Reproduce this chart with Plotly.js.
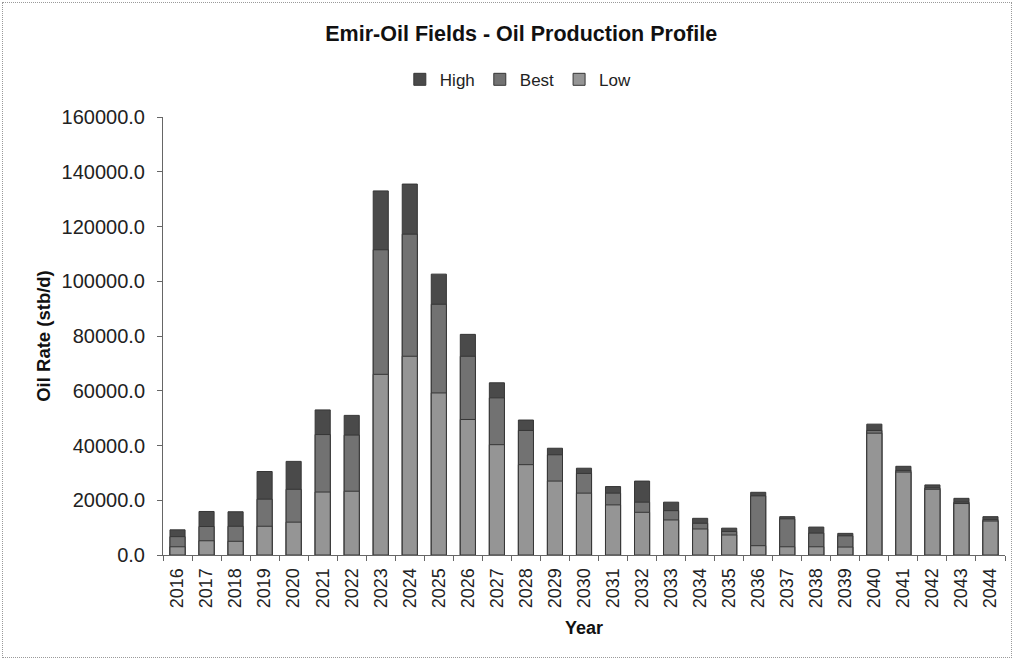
<!DOCTYPE html>
<html>
<head>
<meta charset="utf-8">
<script src="https://cdn.plot.ly/plotly-3.0.1.min.js"></script>
<style>
  html, body { margin: 0; padding: 0; background: #ffffff; }
  #wrap { position: relative; width: 1014px; height: 661px; }
  #chart { position: absolute; left: 0; top: 0; width: 1014px; height: 661px; }
  #frame { position: absolute; left: 2px; top: 2px; width: 1008px; height: 654px;
           border: 1px dotted #9a9a9a; pointer-events: none; }
</style>
</head>
<body>
<div id="wrap">
  <div id="chart"></div>
  <div id="frame"></div>
</div>
<script>
// Production years
const years = ['2016','2017','2018','2019','2020','2021','2022','2023','2024','2025',
               '2026','2027','2028','2029','2030','2031','2032','2033','2034','2035',
               '2036','2037','2038','2039','2040','2041','2042','2043','2044'];

// Oil rate per scenario (stb/d)
const highCase = [9200, 15900, 15800, 30500, 34200, 53000, 51000, 133000, 135500, 102600,
                  80600, 62900, 49300, 39000, 31700, 25000, 27000, 19300, 13400, 9800,
                  22900, 14000, 10200, 7900, 47800, 32400, 25600, 20700, 14000];
const bestCase = [6700, 10400, 10500, 20400, 24000, 44000, 43800, 111500, 117200, 91600,
                  72600, 57400, 45500, 36600, 29800, 22600, 19300, 16200, 11600, 8600,
                  21600, 13200, 8000, 7000, 45500, 30900, 24500, 19300, 12900];
const lowCase  = [3000, 5200, 5000, 10500, 12000, 23000, 23300, 66000, 72600, 59200,
                  49500, 40300, 33000, 27000, 22600, 18300, 15600, 12800, 9500, 7300,
                  3400, 3000, 3000, 2900, 44500, 30300, 24000, 18800, 12400];

const fontFamily = '"Liberation Sans", Arial, sans-serif';
const outline = { color: '#363636', width: 1 };

// Scenarios overlap on one column per year; High sits behind, Low in front
const traces = [
  { name: 'High', x: years, y: highCase, type: 'bar', marker: { color: '#4a4a4a', line: outline } },
  { name: 'Best', x: years, y: bestCase, type: 'bar', marker: { color: '#727272', line: outline } },
  { name: 'Low',  x: years, y: lowCase,  type: 'bar', marker: { color: '#959595', line: outline } }
];

const layout = {
  width: 1014,
  height: 661,
  margin: { l: 163, r: 9, t: 117, b: 106 },
  paper_bgcolor: '#ffffff',
  plot_bgcolor: '#ffffff',
  font: { family: fontFamily, size: 18, color: '#222222' },
  barmode: 'overlay',
  bargap: 0.48,
  showlegend: true,
  title: {
    text: '<b>Emir-Oil Fields - Oil Production Profile</b>',
    font: { family: fontFamily, size: 21.5, color: '#111111' },
    x: 0.514, xref: 'container', xanchor: 'center',
    y: 0.95, yref: 'container', yanchor: 'middle'
  },
  legend: {
    orientation: 'h',
    x: 0.422, xanchor: 'center',
    y: 1.085, yanchor: 'middle',
    font: { family: fontFamily, size: 17, color: '#222222' },
    traceorder: 'normal',
    itemwidth: 30
  },
  xaxis: {
    type: 'category',
    title: { text: '<b>Year</b>', font: { family: fontFamily, size: 18, color: '#111111' }, standoff: 14 },
    tickangle: -90,
    ticks: 'outside',
    ticklen: 5,
    ticklabelstandoff: 5,
    tickson: 'boundaries',
    tickcolor: '#666666',
    showline: true,
    linecolor: '#666666',
    linewidth: 1,
    showgrid: false,
    zeroline: false,
    tickfont: { family: fontFamily, size: 18, color: '#222222' },
    automargin: false
  },
  yaxis: {
    title: { text: '<b>Oil Rate (stb/d)</b>', font: { family: fontFamily, size: 18.5, color: '#111111' }, standoff: 6 },
    range: [0, 160000],
    tickmode: 'linear',
    tick0: 0,
    dtick: 20000,
    tickformat: '.1f',
    ticks: 'outside',
    ticklen: 5,
    ticklabelstandoff: 8,
    tickcolor: '#666666',
    showline: true,
    linecolor: '#666666',
    linewidth: 1,
    showgrid: false,
    zeroline: false,
    tickfont: { family: fontFamily, size: 20, color: '#222222' },
    automargin: false
  }
};

Plotly.newPlot('chart', traces, layout, { displayModeBar: false, staticPlot: true });
</script>
</body>
</html>
